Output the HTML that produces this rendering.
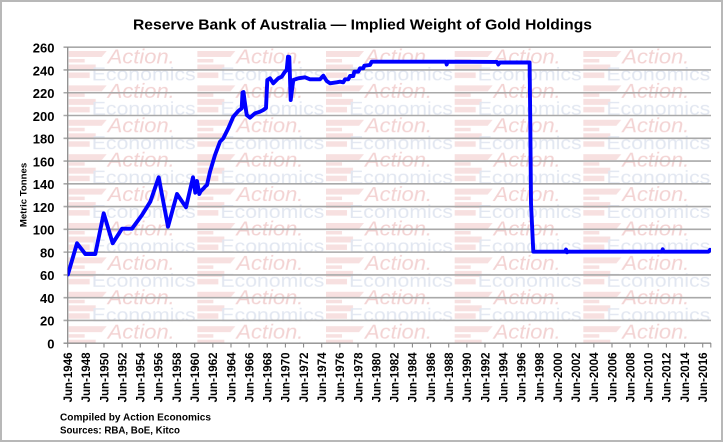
<!DOCTYPE html>
<html>
<head>
<meta charset="utf-8">
<style>
html,body{margin:0;padding:0;background:#fff;}
svg{display:block;}
text{font-family:"Liberation Sans",Arial,sans-serif;}
</style>
</head>
<body>
<svg width="725" height="443" viewBox="0 0 725 443" xmlns="http://www.w3.org/2000/svg">
<defs>
<pattern id="wm" patternUnits="userSpaceOnUse" x="67.7" y="48" width="128.66" height="34.4">
  <polygon points="1,3 39,3 34,9 1,9" fill="#f7e0e0"/>
  <rect x="1" y="11" width="16" height="3.5" fill="#f7e0e0"/>
  <rect x="1" y="16.5" width="27" height="6" fill="#f7e0e0"/>
  <rect x="1" y="24.5" width="21" height="5.5" fill="#f7e0e0"/>
  <text x="40" y="15.5" font-size="20" font-style="italic" textLength="67" lengthAdjust="spacingAndGlyphs" fill="#f3d3d3">Action.</text>
  <text x="24" y="32.3" font-size="18.5" textLength="104" lengthAdjust="spacingAndGlyphs" fill="#e2e7f1">Economics</text>
</pattern>
<clipPath id="pc"><rect x="67.7" y="47" width="643.3" height="296.2"/></clipPath>
</defs>

<rect x="0" y="0" width="725" height="443" fill="#fff"/>
<rect x="1" y="1" width="721" height="440" fill="none" stroke="#b8b8b8" stroke-width="2"/>

<!-- title -->
<text x="133" y="29.3" font-size="15" font-weight="bold" textLength="459" lengthAdjust="spacingAndGlyphs" fill="#000">Reserve Bank of Australia — Implied Weight of Gold Holdings</text>

<!-- watermark -->
<rect x="67.7" y="47" width="643.3" height="296.2" fill="url(#wm)"/>

<!-- gridlines -->
<g stroke="#a9a9a9" stroke-width="1.6">
<line x1="63.5" x2="711" y1="47.2" y2="47.2"/>
<line x1="63.5" x2="711" y1="69.97" y2="69.97"/>
<line x1="63.5" x2="711" y1="92.74" y2="92.74"/>
<line x1="63.5" x2="711" y1="115.51" y2="115.51"/>
<line x1="63.5" x2="711" y1="138.28" y2="138.28"/>
<line x1="63.5" x2="711" y1="161.05" y2="161.05"/>
<line x1="63.5" x2="711" y1="183.82" y2="183.82"/>
<line x1="63.5" x2="711" y1="206.59" y2="206.59"/>
<line x1="63.5" x2="711" y1="229.36" y2="229.36"/>
<line x1="63.5" x2="711" y1="252.13" y2="252.13"/>
<line x1="63.5" x2="711" y1="274.9" y2="274.9"/>
<line x1="63.5" x2="711" y1="297.67" y2="297.67"/>
<line x1="63.5" x2="711" y1="320.44" y2="320.44"/>
</g>
<g stroke="#8c8c8c" stroke-width="1.3">
<line x1="67.7" x2="67.7" y1="47" y2="343.2"/>
<line x1="63.5" x2="711" y1="343.2" y2="343.2"/>
</g>
<!-- x ticks -->
<g stroke="#8c8c8c" stroke-width="1.1">
<line x1="67.7" x2="67.7" y1="343" y2="347.5"/>
<line x1="85.84" x2="85.84" y1="343" y2="347.5"/>
<line x1="103.99" x2="103.99" y1="343" y2="347.5"/>
<line x1="122.13" x2="122.13" y1="343" y2="347.5"/>
<line x1="140.27" x2="140.27" y1="343" y2="347.5"/>
<line x1="158.42" x2="158.42" y1="343" y2="347.5"/>
<line x1="176.56" x2="176.56" y1="343" y2="347.5"/>
<line x1="194.70" x2="194.70" y1="343" y2="347.5"/>
<line x1="212.84" x2="212.84" y1="343" y2="347.5"/>
<line x1="230.99" x2="230.99" y1="343" y2="347.5"/>
<line x1="249.13" x2="249.13" y1="343" y2="347.5"/>
<line x1="267.27" x2="267.27" y1="343" y2="347.5"/>
<line x1="285.42" x2="285.42" y1="343" y2="347.5"/>
<line x1="303.56" x2="303.56" y1="343" y2="347.5"/>
<line x1="321.70" x2="321.70" y1="343" y2="347.5"/>
<line x1="339.85" x2="339.85" y1="343" y2="347.5"/>
<line x1="357.99" x2="357.99" y1="343" y2="347.5"/>
<line x1="376.13" x2="376.13" y1="343" y2="347.5"/>
<line x1="394.27" x2="394.27" y1="343" y2="347.5"/>
<line x1="412.42" x2="412.42" y1="343" y2="347.5"/>
<line x1="430.56" x2="430.56" y1="343" y2="347.5"/>
<line x1="448.70" x2="448.70" y1="343" y2="347.5"/>
<line x1="466.85" x2="466.85" y1="343" y2="347.5"/>
<line x1="484.99" x2="484.99" y1="343" y2="347.5"/>
<line x1="503.13" x2="503.13" y1="343" y2="347.5"/>
<line x1="521.28" x2="521.28" y1="343" y2="347.5"/>
<line x1="539.42" x2="539.42" y1="343" y2="347.5"/>
<line x1="557.56" x2="557.56" y1="343" y2="347.5"/>
<line x1="575.70" x2="575.70" y1="343" y2="347.5"/>
<line x1="593.85" x2="593.85" y1="343" y2="347.5"/>
<line x1="611.99" x2="611.99" y1="343" y2="347.5"/>
<line x1="630.13" x2="630.13" y1="343" y2="347.5"/>
<line x1="648.28" x2="648.28" y1="343" y2="347.5"/>
<line x1="666.42" x2="666.42" y1="343" y2="347.5"/>
<line x1="684.56" x2="684.56" y1="343" y2="347.5"/>
<line x1="702.71" x2="702.71" y1="343" y2="347.5"/>
<line x1="710.8" x2="710.8" y1="343" y2="347.5"/>
</g>

<!-- y labels -->
<g font-size="13" font-weight="bold" text-anchor="end" fill="#000">
<text x="54.5" y="52.5">260</text>
<text x="54.5" y="75.3">240</text>
<text x="54.5" y="98.0">220</text>
<text x="54.5" y="120.8">200</text>
<text x="54.5" y="143.6">180</text>
<text x="54.5" y="166.4">160</text>
<text x="54.5" y="189.1">140</text>
<text x="54.5" y="211.9">120</text>
<text x="54.5" y="234.7">100</text>
<text x="54.5" y="257.4">80</text>
<text x="54.5" y="280.2">60</text>
<text x="54.5" y="303.0">40</text>
<text x="54.5" y="325.7">20</text>
<text x="54.5" y="348.5">0</text>
</g>

<!-- y axis title -->
<text transform="translate(26.5,195) rotate(-90)" font-size="9.6" font-weight="bold" text-anchor="middle" fill="#000">Metric Tonnes</text>

<!-- x labels -->
<g font-size="11.5" font-weight="bold" text-anchor="end" fill="#000">
<text transform="translate(72.0,352.5) rotate(-90)">Jun-1946</text>
<text transform="translate(90.14,352.5) rotate(-90)">Jun-1948</text>
<text transform="translate(108.29,352.5) rotate(-90)">Jun-1950</text>
<text transform="translate(126.43,352.5) rotate(-90)">Jun-1952</text>
<text transform="translate(144.57,352.5) rotate(-90)">Jun-1954</text>
<text transform="translate(162.72,352.5) rotate(-90)">Jun-1956</text>
<text transform="translate(180.86,352.5) rotate(-90)">Jun-1958</text>
<text transform="translate(199.00,352.5) rotate(-90)">Jun-1960</text>
<text transform="translate(217.14,352.5) rotate(-90)">Jun-1962</text>
<text transform="translate(235.29,352.5) rotate(-90)">Jun-1964</text>
<text transform="translate(253.43,352.5) rotate(-90)">Jun-1966</text>
<text transform="translate(271.57,352.5) rotate(-90)">Jun-1968</text>
<text transform="translate(289.72,352.5) rotate(-90)">Jun-1970</text>
<text transform="translate(307.86,352.5) rotate(-90)">Jun-1972</text>
<text transform="translate(326.00,352.5) rotate(-90)">Jun-1974</text>
<text transform="translate(344.15,352.5) rotate(-90)">Jun-1976</text>
<text transform="translate(362.29,352.5) rotate(-90)">Jun-1978</text>
<text transform="translate(380.43,352.5) rotate(-90)">Jun-1980</text>
<text transform="translate(398.57,352.5) rotate(-90)">Jun-1982</text>
<text transform="translate(416.72,352.5) rotate(-90)">Jun-1984</text>
<text transform="translate(434.86,352.5) rotate(-90)">Jun-1986</text>
<text transform="translate(453.00,352.5) rotate(-90)">Jun-1988</text>
<text transform="translate(471.15,352.5) rotate(-90)">Jun-1990</text>
<text transform="translate(489.29,352.5) rotate(-90)">Jun-1992</text>
<text transform="translate(507.43,352.5) rotate(-90)">Jun-1994</text>
<text transform="translate(525.58,352.5) rotate(-90)">Jun-1996</text>
<text transform="translate(543.72,352.5) rotate(-90)">Jun-1998</text>
<text transform="translate(561.86,352.5) rotate(-90)">Jun-2000</text>
<text transform="translate(580.00,352.5) rotate(-90)">Jun-2002</text>
<text transform="translate(598.15,352.5) rotate(-90)">Jun-2004</text>
<text transform="translate(616.29,352.5) rotate(-90)">Jun-2006</text>
<text transform="translate(634.43,352.5) rotate(-90)">Jun-2008</text>
<text transform="translate(652.58,352.5) rotate(-90)">Jun-2010</text>
<text transform="translate(670.72,352.5) rotate(-90)">Jun-2012</text>
<text transform="translate(688.86,352.5) rotate(-90)">Jun-2014</text>
<text transform="translate(707.01,352.5) rotate(-90)">Jun-2016</text>
</g>

<!-- data -->
<g clip-path="url(#pc)">
<polyline fill="none" stroke="#0000ff" stroke-width="3.9" stroke-linejoin="round" stroke-linecap="round" points="
67.9,274.5 77,243.3 85.3,254 95.3,254 103.7,213.3 112.7,243.3 122,228.7 132,228.7 142,215 150.3,201.7 158.7,177.3 168,226.7 177,194 186,207.3 193,177.3 195.3,192.7 197,181 199.3,194 200.5,191.5 203.7,188.3 205,186.7 207,185 210,171.7 215,155 220,141.7 223.3,138.3 228.3,128.3 233.3,116.7 238.3,111 241.7,108.3 242.5,92.5 243.5,92 244.5,100 246.7,115 250,117.7 255,113.3 260,111.7 263.3,110 266,108 267.3,80 270,78.3 273.3,83.3 278.3,78.3 281.7,76.7 285,71.7 286.7,70 288,56.7 289.3,57 290.7,100 293.3,80 298.3,78.3 305,77.3 310,79.3 320,79.3 323.3,75.7 326.7,81 330,83.3 336.7,82.3 340,81.7 343.3,82.3 345,79.3 348.3,79.3 350,76 353.3,76 354.3,71.7 358.3,71.7 360,68.3 363.3,68.3 364.3,65.7 370,65 371.7,61.7 446,61.7 446.7,64.5 447.5,61.7 497,61.9 498.3,64.5 500,62.5 529.6,62.5 530.3,124 531,203.3 533.3,251.7 565,251.7 566,249.5 567,252.3 568,251.7 662,251.7 662.7,249.3 663.5,251.7 708.5,251.7 710,249.8"/>
</g>

<!-- footer -->
<text x="60" y="420.5" font-size="10" font-weight="bold" textLength="151" lengthAdjust="spacingAndGlyphs" fill="#000">Compiled by Action Economics</text>
<text x="60" y="433.3" font-size="10" font-weight="bold" textLength="120" lengthAdjust="spacingAndGlyphs" fill="#000">Sources: RBA, BoE, Kitco</text>
</svg>
</body>
</html>
